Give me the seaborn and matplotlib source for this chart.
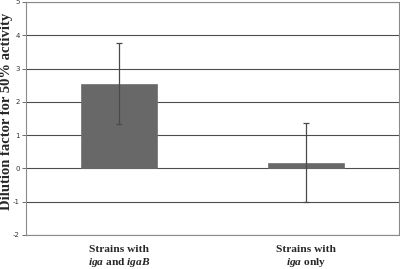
import matplotlib
matplotlib.use("Agg")
import matplotlib.pyplot as plt
import seaborn as sns
import pandas as pd

categories = ["Strains with\n$iga$ and $igaB$", "Strains with\n$iga$ only"]
values = [2.55, 0.17]
errors = [1.21, 1.19]
yticks = [-2, -1, 0, 1, 2, 3, 4, 5]

sns.set_theme(style="white")
plt.rcParams["mathtext.fontset"] = "custom"
plt.rcParams["mathtext.rm"] = "Liberation Serif:bold"
plt.rcParams["mathtext.it"] = "Liberation Serif:italic:bold"
plt.rcParams["mathtext.bf"] = "Liberation Serif:bold"

df = pd.DataFrame({"cat": categories, "val": values})

fig = plt.figure(figsize=(4.0, 2.69), dpi=100)
ax = fig.add_axes([0.065, 0.1264, 0.9325, 0.8662])

sns.barplot(data=df, x="cat", y="val", ax=ax, color="#686868", width=0.41,
            saturation=1, errorbar=None, edgecolor="#6e6e6e", linewidth=0.5, zorder=3)
ax.errorbar(x=list(range(len(values))), y=values, yerr=errors, fmt="none",
            ecolor="#4a4a4a", elinewidth=0.9, capsize=2, capthick=0.9, zorder=4)

ax.set_ylim(-2, 5)
ax.set_xlim(-0.5, 1.5)
ax.set_yticks(yticks)
ax.set_yticklabels([str(t) for t in yticks], fontsize=5, color="#333333",
                   family="DejaVu Sans")
ax.yaxis.grid(True, color="#4d4d4d", linewidth=0.8, zorder=0)
ax.set_axisbelow(True)
ax.tick_params(axis="y", length=3, width=0.6, color="#555555", pad=1.5, left=True)
ax.tick_params(axis="x", length=0, pad=7)
for lab in ax.get_xticklabels():
    lab.set_fontfamily("Liberation Serif")
    lab.set_fontweight("bold")
    lab.set_fontsize(8.2)
    lab.set_linespacing(1.3)
ax.set_xlabel("")
ax.set_ylabel("Dilution factor for 50% activity", fontsize=10.5, fontweight="bold",
              family="Liberation Serif")
ax.yaxis.set_label_coords(-0.034, 0.53)
for s in ["left", "right", "top", "bottom"]:
    ax.spines[s].set_visible(True)
    ax.spines[s].set_color("#8a8a8a")
    ax.spines[s].set_linewidth(0.8)

fig.savefig("out.png", dpi=100)
